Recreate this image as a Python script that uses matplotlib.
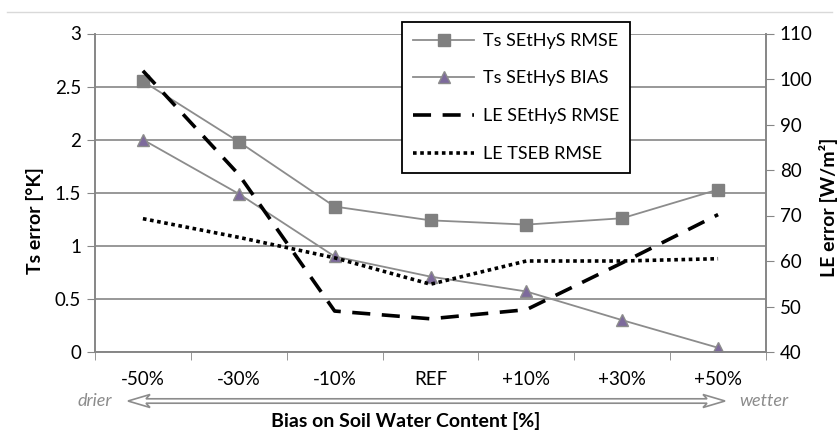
import matplotlib.pyplot as plt
import matplotlib.patches as mpatches
from matplotlib.lines import Line2D

categories = ['-50%', '-30%', '-10%', 'REF', '+10%', '+30%', '+50%']
ts_rmse = [2.55, 1.98, 1.37, 1.24, 1.20, 1.26, 1.53]
ts_bias = [2.00, 1.49, 0.90, 0.71, 0.57, 0.30, 0.04]
le_sethys_rmse = [101.8, 79.0, 49.0, 47.3, 49.3, 59.6, 70.2]
le_tseb_rmse = [69.3, 65.2, 60.7, 54.9, 60.0, 60.0, 60.5]

plt.rcParams['font.family'] = ['Lato', 'DejaVu Sans']
gray = '#868686'
W, H = 840, 432

fig = plt.figure(figsize=(8.4, 4.32), dpi=100)
ax = fig.add_axes([95 / W, 1 - 352 / H, 671 / W, 318.5 / H])
ax2 = ax.twinx()

x = list(range(len(categories)))
ax.plot(x, ts_rmse, color='#8c8c8c', lw=1.3, marker='s', ms=9,
        mfc='#808080', mec='#808080', zorder=3)
ax.plot(x, ts_bias, color='#8c8c8c', lw=1.3, marker='^', ms=9,
        mfc='#7d6a9c', mec='#8c8c8c', zorder=3)
ax2.plot(x, le_sethys_rmse, color='black', lw=2.6, dashes=(5, 3.2))
ax2.plot(x, le_tseb_rmse, color='black', lw=2.6, dashes=(1, 1))

ax.set_xlim(-0.5, len(categories) - 0.5)
ax.set_ylim(0, 3)
ax.set_yticks([0, 0.5, 1, 1.5, 2, 2.5, 3])
ax.set_yticklabels(['0', '0.5', '1', '1.5', '2', '2.5', '3'])
ax2.set_ylim(40, 110)
ax2.set_yticks(range(40, 111, 10))

ax.set_xticks(x)
ax.set_xticklabels(categories)
ax.set_xticks([i + 0.5 for i in range(-1, len(categories))], minor=True)
ax.tick_params(axis='x', which='major', length=0, pad=14, labelsize=13.5)
ax.tick_params(axis='x', which='minor', length=6, color=gray, direction='out')
ax.tick_params(axis='y', length=6, color=gray, labelsize=13.5, pad=4)
ax2.tick_params(axis='y', length=6, color=gray, labelsize=13.5, pad=4)

ax.grid(axis='y', color=gray, lw=1.2)
ax.set_axisbelow(True)
for a in (ax, ax2):
    a.spines['top'].set_visible(False)
    for s in ['left', 'right', 'bottom']:
        a.spines[s].set_color(gray)
        a.spines[s].set_linewidth(1.2)

# axis titles placed where the reference has them
fig.text(35 / W, 1 - 221 / H, 'Ts error [°K]', rotation=90, ha='center',
         va='center', fontsize=14, fontweight='bold')
fig.text(829 / W, 1 - 207 / H, 'LE error [W/m²]', rotation=90, ha='center',
         va='center', fontsize=14, fontweight='bold')
fig.text(406 / W, 1 - 421 / H, 'Bias on Soil Water Content [%]', ha='center',
         va='center', fontsize=14, fontweight='bold')

# drier / wetter double arrow (hollow shaft), drawn in figure pixels
x0, x1, yc = 128, 725, 401
hl, hw, sw = 22, 6.5, 2.2
pts = [(x0, yc), (x0 + hl, yc + hw), (x0 + hl - 4, yc + sw), (x1 - hl + 4, yc + sw),
       (x1 - hl, yc + hw), (x1, yc), (x1 - hl, yc - hw), (x1 - hl + 4, yc - sw),
       (x0 + hl - 4, yc - sw), (x0 + hl, yc - hw)]
pts = [(px / W, 1 - py / H) for px, py in pts]
arrow = mpatches.Polygon(pts, closed=True, transform=fig.transFigure,
                         fc='white', ec='#8c8c8c', lw=1.2)
fig.patches.append(arrow)
fig.text(95 / W, 1 - 401 / H, 'drier', ha='center', va='center',
         fontsize=13, style='italic', color='#8c8c8c')
fig.text(764 / W, 1 - 401 / H, 'wetter', ha='center', va='center',
         fontsize=13, style='italic', color='#8c8c8c')

# thin frame line at top
fig.add_artist(Line2D([7 / W, 832 / W], [1 - 12 / H, 1 - 12 / H],
                      transform=fig.transFigure, color='#d9d9d9', lw=1))

handles = [
    Line2D([], [], color='#8c8c8c', lw=1.3, marker='s', ms=9, mfc='#808080', mec='#808080'),
    Line2D([], [], color='#8c8c8c', lw=1.3, marker='^', ms=9, mfc='#7d6a9c', mec='#8c8c8c'),
    Line2D([], [], color='black', lw=2.6, dashes=(5, 3.2)),
    Line2D([], [], color='black', lw=2.6, dashes=(1, 1)),
]
labels = ['Ts SEtHyS RMSE', 'Ts SEtHyS BIAS', 'LE SEtHyS RMSE', 'LE TSEB RMSE']
leg = fig.legend(handles, labels, loc='upper left',
                 bbox_to_anchor=(402 / W, 1 - 22 / H), fontsize=13,
                 frameon=True, fancybox=False, edgecolor='black', framealpha=1,
                 handlelength=3.4, handletextpad=0.5, labelspacing=1.2,
                 borderpad=0.6, borderaxespad=0)
leg.get_frame().set_linewidth(1.3)

fig.savefig('out.png', dpi=100)
